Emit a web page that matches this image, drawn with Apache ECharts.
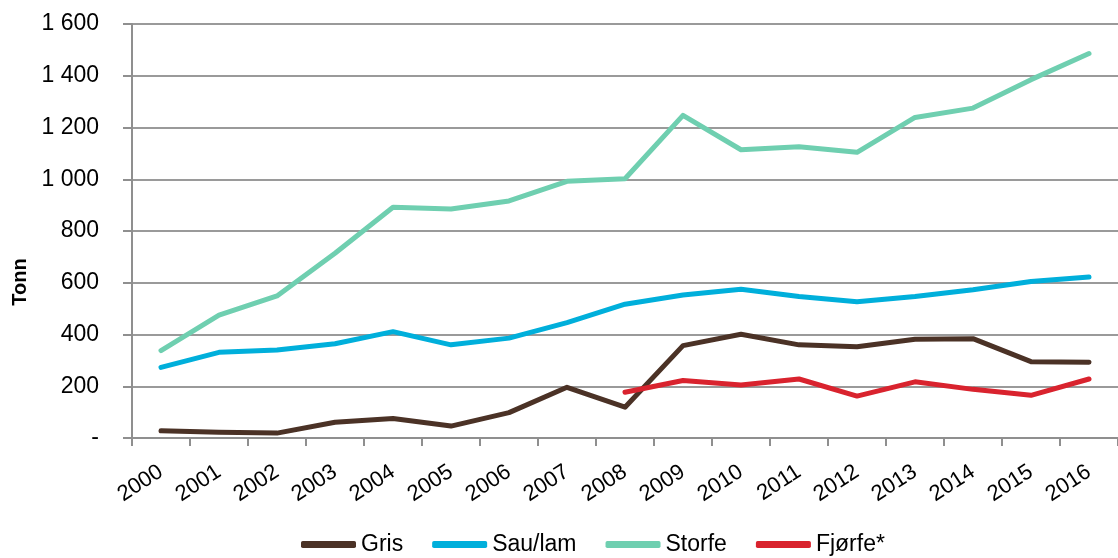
<!DOCTYPE html>
<html>
<head>
<meta charset="utf-8">
<script src="https://cdn.jsdelivr.net/npm/echarts@6/dist/echarts.min.js"></script>
<style>
  html, body { margin: 0; padding: 0; background: #fff; }
  #chart { width: 1118px; height: 558px; }
</style>
</head>
<body>
<div id="chart"></div>
<script>
// årstall
var years = ["2000", "2001", "2002", "2003", "2004", "2005", "2006", "2007", "2008",
  "2009", "2010", "2011", "2012", "2013", "2014", "2015", "2016"];

// tonn per år, lest av figuren
var gris = [28, 22, 19, 61, 75, 46, 98, 196, 119, 357, 401, 360, 353, 382, 384, 295, 293];
var sauLam = [273, 331, 340, 364, 411, 360, 386, 446, 517, 553, 575, 547, 527, 547, 573, 605, 622];
var storfe = [338, 475, 549, 714, 892, 885, 916, 992, 1002, 1247, 1114, 1126, 1104, 1239, 1275, 1385, 1486];
// fjørfe bare fra 2008
var fjorfe = [null, null, null, null, null, null, null, null, 177, 222, 205, 228, 162, 217, 188, 165, 228];

var seriesNames = ["Gris", "Sau/lam", "Storfe", "Fjørfe*"];
var colors = ["#4b3226", "#00afdb", "#6fcfb0", "#d9232e"];

var font = "Liberation Sans, Arial, sans-serif";

function fmt(v) {
  if (v === 0) return "-";
  return String(v).replace(/\B(?=(\d{3})+(?!\d))/g, " ");
}

function lineSeries(name, data, color) {
  return {
    name: name,
    type: "line",
    data: data,
    symbol: "none",
    connectNulls: false,
    lineStyle: { width: 5, color: color, cap: "round", join: "round" },
    itemStyle: { color: color }
  };
}

var chart = echarts.init(document.getElementById("chart"));
chart.setOption({
  animation: false,
  color: colors,
  grid: {
    left: 132,
    top: 24,
    width: 1000,
    height: 414
  },
  legend: {
    left: 296,
    top: 528,
    icon: "roundRect",
    itemWidth: 55,
    itemHeight: 7,
    itemGap: 29,
    textStyle: { fontFamily: font, fontSize: 23, color: "#000" },
    data: seriesNames
  },
  xAxis: {
    type: "category",
    data: years,
    boundaryGap: true,
    axisLine: { show: true, lineStyle: { color: "#8f8f8f", width: 2 } },
    axisTick: { show: true, length: 8, lineStyle: { color: "#8f8f8f", width: 2 } },
    axisLabel: {
      rotate: 33,
      margin: 32,
      interval: 0,
      fontFamily: font,
      fontSize: 22,
      color: "#000"
    }
  },
  yAxis: {
    type: "value",
    min: 0,
    max: 1600,
    interval: 200,
    name: "Tonn",
    nameLocation: "middle",
    nameGap: 102,
    nameTextStyle: {
      fontFamily: font,
      fontSize: 20,
      fontWeight: "bold",
      color: "#000",
      padding: [0, 102, 0, 0]
    },
    axisLine: { show: true, lineStyle: { color: "#8f8f8f", width: 2 } },
    axisTick: { show: true, length: 9, lineStyle: { color: "#8f8f8f", width: 2 } },
    splitLine: { show: true, lineStyle: { color: "#9a9a9a", width: 2 } },
    axisLabel: {
      margin: 33,
      fontFamily: font,
      fontSize: 23,
      color: "#000",
      formatter: fmt
    }
  },
  series: [
    lineSeries(seriesNames[0], gris, colors[0]),
    lineSeries(seriesNames[1], sauLam, colors[1]),
    lineSeries(seriesNames[2], storfe, colors[2]),
    lineSeries(seriesNames[3], fjorfe, colors[3])
  ]
});
</script>
</body>
</html>
